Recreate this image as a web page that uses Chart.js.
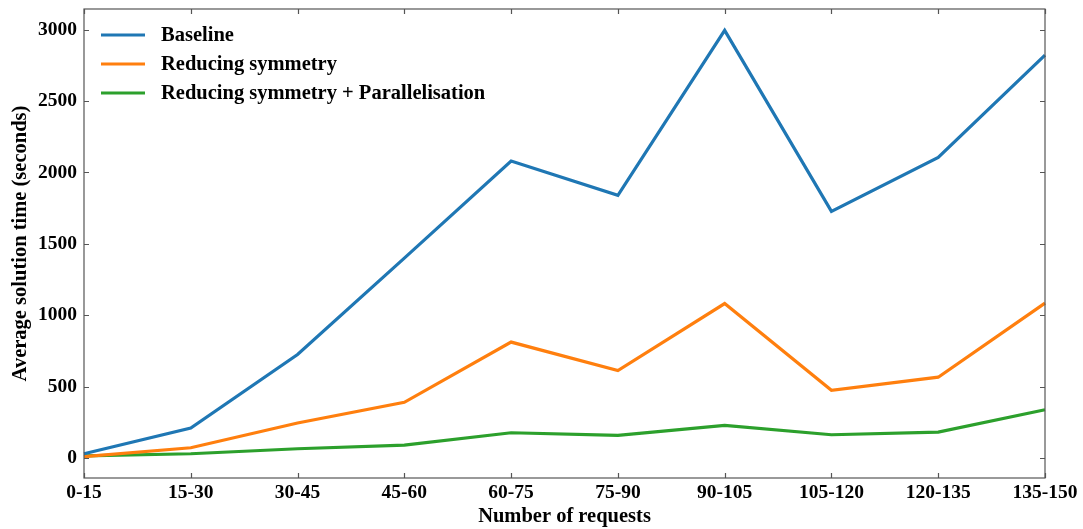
<!DOCTYPE html>
<html>
<head>
<meta charset="utf-8">
<script src="https://cdn.jsdelivr.net/npm/chart.js@4.4.1/dist/chart.umd.min.js"></script>
<style>
  html, body { margin: 0; padding: 0; background: #fff; }
  #wrap { width: 1083px; height: 529px; }
</style>
</head>
<body>
<div id="wrap"><canvas id="c" width="1083" height="529"></canvas></div>
<script>
// Request-count buckets on the x axis
const categories = ['0-15', '15-30', '30-45', '45-60', '60-75', '75-90', '90-105', '105-120', '120-135', '135-150'];

// Average solution time in seconds for each bucket
const baseline = [30, 210, 725, 1400, 2080, 1840, 2995, 1728, 2105, 2822];
const reducingSymmetry = [10, 72, 245, 390, 812, 613, 1082, 474, 566, 1085];
const reducingSymmetryParallel = [15, 30, 65, 90, 177, 158, 228, 163, 181, 338];

const seriesNames = ['Baseline', 'Reducing symmetry', 'Reducing symmetry + Parallelisation'];
const seriesColors = ['#1f77b4', '#ff7f0e', '#2ca02c'];
const yTickValues = [0, 500, 1000, 1500, 2000, 2500, 3000];

const FONT = "'Liberation Serif', 'Times New Roman', serif";

// Frame, inward ticks on all four sides, and an in-plot legend
const framePlugin = {
  id: 'frame',
  afterDatasetsDraw(chart) {
    const { ctx, chartArea: a, scales } = chart;
    ctx.save();
    ctx.strokeStyle = '#555';
    ctx.lineWidth = 1.2;
    ctx.strokeRect(a.left, a.top, a.right - a.left, a.bottom - a.top);
    const len = 5;
    ctx.beginPath();
    scales.x.ticks.forEach((t, i) => {
      const x = Math.round(scales.x.getPixelForTick(i)) + 0.5;
      ctx.moveTo(x, a.bottom); ctx.lineTo(x, a.bottom - len);
      ctx.moveTo(x, a.top); ctx.lineTo(x, a.top + len);
    });
    scales.y.ticks.forEach((t, i) => {
      const y = Math.round(scales.y.getPixelForTick(i)) + 0.5;
      ctx.moveTo(a.left, y); ctx.lineTo(a.left + len, y);
      ctx.moveTo(a.right, y); ctx.lineTo(a.right - len, y);
    });
    ctx.stroke();

    // legend
    const rowY = [35, 64, 93];
    ctx.font = "bold 20.5px " + FONT;
    ctx.textBaseline = 'middle';
    ctx.textAlign = 'left';
    chart.data.datasets.forEach((ds, i) => {
      ctx.strokeStyle = ds.borderColor;
      ctx.lineWidth = 3.2;
      ctx.beginPath();
      ctx.moveTo(a.left + 17, rowY[i]);
      ctx.lineTo(a.left + 61, rowY[i]);
      ctx.stroke();
      ctx.fillStyle = '#000';
      ctx.fillText(ds.label, a.left + 77, rowY[i] + 1);
    });
    ctx.restore();
  }
};

const values = [baseline, reducingSymmetry, reducingSymmetryParallel];

new Chart(document.getElementById('c'), {
  type: 'line',
  data: {
    labels: categories,
    datasets: values.map((v, i) => ({
      label: seriesNames[i],
      data: v,
      borderColor: seriesColors[i],
      backgroundColor: seriesColors[i],
      borderWidth: 3.2,
      pointRadius: 0,
      tension: 0,
      fill: false
    }))
  },
  options: {
    responsive: false,
    animation: false,
    devicePixelRatio: 1,
    layout: { padding: { left: 0, right: 38, top: 9, bottom: 0 } },
    plugins: { legend: { display: false }, tooltip: { enabled: false } },
    scales: {
      x: {
        type: 'category',
        offset: false,
        grid: { display: false, drawTicks: false },
        border: { display: false },
        ticks: {
          color: '#000',
          font: { family: FONT, size: 19.5, weight: 'bold' },
          padding: 3,
          maxRotation: 0,
          autoSkip: false
        },
        title: {
          display: true,
          text: 'Number of requests',
          color: '#000',
          font: { family: FONT, size: 20.5, weight: 'bold' },
          padding: { top: 0, bottom: 0 }
        },
        afterFit(scale) {
          scale.height = 51;
          scale.paddingLeft = 0;
          scale.paddingRight = 0;
        }
      },
      y: {
        min: -140,
        max: 3145,
        grid: { display: false, drawTicks: false },
        border: { display: false },
        ticks: {
          color: '#000',
          font: { family: FONT, size: 19.5, weight: 'bold' },
          padding: 7,
          callback: (v) => String(v)
        },
        afterBuildTicks(scale) {
          scale.ticks = yTickValues.map(v => ({ value: v }));
        },
        title: {
          display: true,
          text: 'Average solution time (seconds)',
          color: '#000',
          font: { family: FONT, size: 20.5, weight: 'bold' },
          padding: { top: 8, bottom: 0 }
        },
        afterFit(scale) {
          scale.width = 84;
          scale.paddingTop = 0;
          scale.paddingBottom = 0;
        }
      }
    }
  },
  plugins: [framePlugin]
});
</script>
</body>
</html>
